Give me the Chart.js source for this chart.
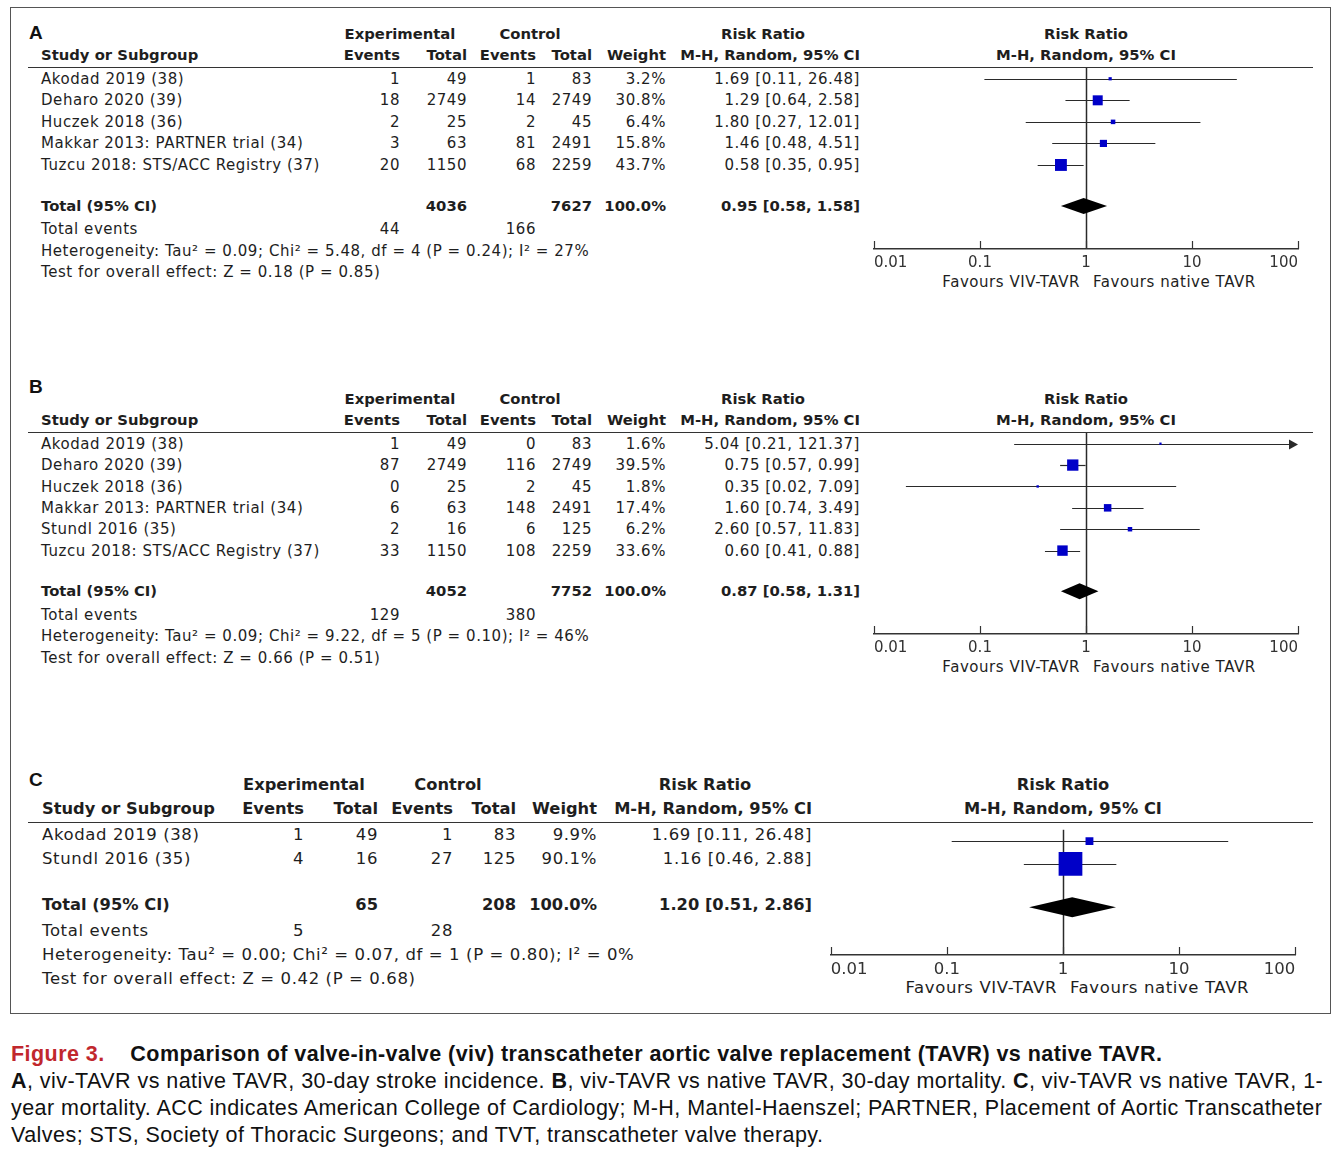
<!DOCTYPE html>
<html>
<head>
<meta charset="utf-8">
<script src="https://cdn.jsdelivr.net/npm/chart.js@4.4.1/dist/chart.umd.min.js"></script>
<style>
  body { margin: 0; background: #fff; width: 1344px; height: 1150px; position: relative; overflow: hidden; }
  #frame { position: absolute; left: 10px; top: 7px; width: 1321px; height: 1007px; border: 1.5px solid #555; box-sizing: border-box; }
  .t { position: absolute; white-space: nowrap; line-height: 20px; height: 20px; color: #1e1e1e; font-family: 'DejaVu Sans', sans-serif; }
  .rule { position: absolute; left: 28px; width: 1285px; height: 0; border-top: 1.5px solid #333; }
  .tag { font-family: 'Liberation Sans', Arial, sans-serif; font-weight: bold; font-size: 19px; color: #111; }
  #caption { position: absolute; left: 11px; top: 1041px; font-family: 'Liberation Sans', Arial, sans-serif; font-size: 21.5px; letter-spacing: 0.45px; line-height: 27px; color: #111; white-space: nowrap; }
  #caption .fig { color: #c1272d; font-weight: bold; }
  canvas { position: absolute; }
</style>
</head>
<body>
<div id="frame"></div>
<div id="caption">
  <div><span class="fig">Figure 3.</span>&nbsp;&nbsp;&nbsp; <b>Comparison of valve-in-valve (viv) transcatheter aortic valve replacement (TAVR) vs native TAVR.</b></div>
  <div><b>A</b>, viv-TAVR vs native TAVR, 30-day stroke incidence. <b>B</b>, viv-TAVR vs native TAVR, 30-day mortality. <b>C</b>, viv-TAVR vs native TAVR, 1-</div>
  <div>year mortality. ACC indicates American College of Cardiology; M-H, Mantel-Haenszel; PARTNER, Placement of Aortic Transcatheter</div>
  <div>Valves; STS, Society of Thoracic Surgeons; and TVT, transcatheter valve therapy.</div>
</div>
<script>
// A: 30-day stroke incidence
const studiesA = ['Akodad 2019 (38)', 'Deharo 2020 (39)', 'Huczek 2018 (36)', 'Makkar 2013: PARTNER trial (34)', 'Tuzcu 2018: STS/ACC Registry (37)'];
const expEventsA = [1, 18, 2, 3, 20];
const expTotalA = [49, 2749, 25, 63, 1150];
const ctlEventsA = [1, 14, 2, 81, 68];
const ctlTotalA = [83, 2749, 45, 2491, 2259];
const weightA = [3.2, 30.8, 6.4, 15.8, 43.7];
const rrA = [1.69, 1.29, 1.80, 1.46, 0.58];
const lowA = [0.11, 0.64, 0.27, 0.48, 0.35];
const highA = [26.48, 2.58, 12.01, 4.51, 0.95];
const totalsA = [4036, 7627];          // exp total, control total
const totalEventsA = [44, 166];
const pooledA = [0.95, 0.58, 1.58];    // rr, low, high
const hetA = 'Heterogeneity: Tau² = 0.09; Chi² = 5.48, df = 4 (P = 0.24); I² = 27%';
const testA = 'Test for overall effect: Z = 0.18 (P = 0.85)';

// B: 30-day mortality
const studiesB = ['Akodad 2019 (38)', 'Deharo 2020 (39)', 'Huczek 2018 (36)', 'Makkar 2013: PARTNER trial (34)', 'Stundl 2016 (35)', 'Tuzcu 2018: STS/ACC Registry (37)'];
const expEventsB = [1, 87, 0, 6, 2, 33];
const expTotalB = [49, 2749, 25, 63, 16, 1150];
const ctlEventsB = [0, 116, 2, 148, 6, 108];
const ctlTotalB = [83, 2749, 45, 2491, 125, 2259];
const weightB = [1.6, 39.5, 1.8, 17.4, 6.2, 33.6];
const rrB = [5.04, 0.75, 0.35, 1.60, 2.60, 0.60];
const lowB = [0.21, 0.57, 0.02, 0.74, 0.57, 0.41];
const highB = [121.37, 0.99, 7.09, 3.49, 11.83, 0.88];
const totalsB = [4052, 7752];
const totalEventsB = [129, 380];
const pooledB = [0.87, 0.58, 1.31];
const hetB = 'Heterogeneity: Tau² = 0.09; Chi² = 9.22, df = 5 (P = 0.10); I² = 46%';
const testB = 'Test for overall effect: Z = 0.66 (P = 0.51)';

// C: 1-year mortality
const studiesC = ['Akodad 2019 (38)', 'Stundl 2016 (35)'];
const expEventsC = [1, 4];
const expTotalC = [49, 16];
const ctlEventsC = [1, 27];
const ctlTotalC = [83, 125];
const weightC = [9.9, 90.1];
const rrC = [1.69, 1.16];
const lowC = [0.11, 0.46];
const highC = [26.48, 2.88];
const totalsC = [65, 208];
const totalEventsC = [5, 28];
const pooledC = [1.20, 0.51, 2.86];
const hetC = 'Heterogeneity: Tau² = 0.00; Chi² = 0.07, df = 1 (P = 0.80); I² = 0%';
const testC = 'Test for overall effect: Z = 0.42 (P = 0.68)';

const tickVals = [0.01, 0.1, 1, 10, 100];
const favours = ['Favours VIV-TAVR', 'Favours native TAVR'];

// page layout for each panel (pixels)
const layoutA = { tag: 'A', tagX: 29, tagY: 33, lineY: 68, rowH: 21.5, axisRows: 3.4, fs: 15, fsB: 14.8, nameX: 41,
  cols: [400, 467, 536, 592, 666, 860], expC: 400, ctlC: 530, rrC: 763, plotL: 874, plotR: 1298, sq: 1.8, dia: 8 };
const layoutB = { tag: 'B', tagX: 29, tagY: 387, lineY: 433, rowH: 21.4, axisRows: 3.4, fs: 15, fsB: 14.8, nameX: 41,
  cols: [400, 467, 536, 592, 666, 860], expC: 400, ctlC: 530, rrC: 763, plotL: 874, plotR: 1298, sq: 1.8, dia: 8 };
const layoutC = { tag: 'C', tagX: 29, tagY: 780, lineY: 823, rowH: 24, axisRows: 3.5, fs: 16.5, fsB: 16.3, nameX: 42,
  cols: [304, 378, 453, 516, 597, 812], expC: 304, ctlC: 448, rrC: 705, plotL: 828, plotR: 1298, sq: 2.5, dia: 10 };

function put(txt, x, y, align, size, bold, cls) {
  const d = document.createElement('div');
  d.className = 't' + (cls ? ' ' + cls : '');
  d.textContent = txt;
  d.style.left = x + 'px';
  d.style.top = (y - 10) + 'px';
  if (size) d.style.fontSize = size + 'px';
  if (bold) d.style.fontWeight = 'bold';
  else if (size) d.style.letterSpacing = (size * 0.037).toFixed(2) + 'px';
  if (align === 'right') d.style.transform = 'translateX(-100%)';
  if (align === 'center') d.style.transform = 'translateX(-50%)';
  document.body.appendChild(d);
  return d;
}

const ci = (r, l, h) => r.toFixed(2) + ' [' + l.toFixed(2) + ', ' + h.toFixed(2) + ']';

function buildTable(P, L) {
  const n = P.studies.length;
  const rowY = r => L.lineY + L.rowH * r;
  const mid = (L.plotL + L.plotR) / 2;
  put(L.tag, L.tagX, L.tagY, 'left', null, false, 'tag');

  put('Experimental', L.expC, rowY(-1.6), 'center', L.fsB, true);
  put('Control', L.ctlC, rowY(-1.6), 'center', L.fsB, true);
  put('Risk Ratio', L.rrC, rowY(-1.6), 'center', L.fsB, true);
  put('Risk Ratio', mid, rowY(-1.6), 'center', L.fsB, true);
  put('Study or Subgroup', L.nameX, rowY(-0.6), 'left', L.fsB, true);
  ['Events', 'Total', 'Events', 'Total', 'Weight', 'M-H, Random, 95% CI'].forEach((h, i) => {
    put(h, L.cols[i], rowY(-0.6), 'right', L.fsB, true);
  });
  put('M-H, Random, 95% CI', mid, rowY(-0.6), 'center', L.fsB, true);

  const rule = document.createElement('div');
  rule.className = 'rule';
  rule.style.top = (L.lineY - 1) + 'px';
  document.body.appendChild(rule);

  P.studies.forEach((s, i) => {
    const y = rowY(i + 0.5);
    put(s, L.nameX, y, 'left', L.fs);
    const cells = [P.expEvents[i], P.expTotal[i], P.ctlEvents[i], P.ctlTotal[i],
      P.weight[i].toFixed(1) + '%', ci(P.rr[i], P.low[i], P.high[i])];
    cells.forEach((c, j) => put(String(c), L.cols[j], y, 'right', L.fs));
  });

  const ty = rowY(n + 1.4);
  put('Total (95% CI)', L.nameX, ty, 'left', L.fsB, true);
  put(String(P.totals[0]), L.cols[1], ty, 'right', L.fsB, true);
  put(String(P.totals[1]), L.cols[3], ty, 'right', L.fsB, true);
  put('100.0%', L.cols[4], ty, 'right', L.fsB, true);
  put(ci(P.pooled[0], P.pooled[1], P.pooled[2]), L.cols[5], ty, 'right', L.fsB, true);

  put('Total events', L.nameX, rowY(n + 2.5), 'left', L.fs);
  put(String(P.totalEvents[0]), L.cols[0], rowY(n + 2.5), 'right', L.fs);
  put(String(P.totalEvents[1]), L.cols[2], rowY(n + 2.5), 'right', L.fs);
  put(P.het, L.nameX, rowY(n + 3.5), 'left', L.fs);
  put(P.test, L.nameX, rowY(n + 4.5), 'left', L.fs);

  const fy = rowY(n + L.axisRows) + 33;
  put(favours[0], mid - 6, fy, 'right', L.fs);
  put(favours[1], mid + 7, fy, 'left', L.fs);
}

// draws CI whiskers, the line of no effect, pooled diamond and axis ticks
const forestPlugin = {
  id: 'forest',
  beforeDatasetsDraw(chart, args, opts) {
    const { ctx, chartArea } = chart;
    const xs = chart.scales.x, ys = chart.scales.y;
    ctx.save();
    ctx.strokeStyle = '#2a2a2a';
    ctx.lineWidth = 1.5;
    const x1 = Math.round(xs.getPixelForValue(1)) + 0.5;
    ctx.beginPath();
    ctx.moveTo(x1, chartArea.top);
    ctx.lineTo(x1, chartArea.bottom);
    ctx.stroke();

    ctx.lineWidth = 1.2;
    ctx.fillStyle = '#2a2a2a';
    opts.low.forEach((lo, i) => {
      const y = Math.round(ys.getPixelForValue(i + 0.5)) + 0.5;
      const a = Math.max(xs.getPixelForValue(lo), chartArea.left);
      const over = opts.high[i] > xs.max;
      const b = over ? chartArea.right : xs.getPixelForValue(opts.high[i]);
      ctx.beginPath();
      ctx.moveTo(a, y);
      ctx.lineTo(over ? b - 6 : b, y);
      ctx.stroke();
      if (over) {
        ctx.beginPath();
        ctx.moveTo(b, y);
        ctx.lineTo(b - 9, y - 5);
        ctx.lineTo(b - 9, y + 5);
        ctx.closePath();
        ctx.fill();
      }
    });
    ctx.restore();
  },
  afterDatasetsDraw(chart, args, opts) {
    const { ctx, chartArea } = chart;
    const xs = chart.scales.x, ys = chart.scales.y;
    const p = opts.pooled;
    const y = ys.getPixelForValue(opts.totalRow);
    ctx.save();
    ctx.fillStyle = '#000';
    ctx.beginPath();
    ctx.moveTo(xs.getPixelForValue(p[1]), y);
    ctx.lineTo(xs.getPixelForValue(p[0]), y - opts.dia);
    ctx.lineTo(xs.getPixelForValue(p[2]), y);
    ctx.lineTo(xs.getPixelForValue(p[0]), y + opts.dia);
    ctx.closePath();
    ctx.fill();

    ctx.strokeStyle = '#333';
    ctx.lineWidth = 1.2;
    tickVals.forEach(v => {
      const x = Math.round(xs.getPixelForValue(v)) + 0.5;
      ctx.beginPath();
      ctx.moveTo(x, chartArea.bottom);
      ctx.lineTo(x, chartArea.bottom - 8);
      ctx.stroke();
    });
    ctx.restore();
  }
};

function buildForest(P, L) {
  const n = P.studies.length;
  const padX = 14, padT = 10, axisH = 34;
  const cv = document.createElement('canvas');
  cv.width = (L.plotR - L.plotL) + 2 * padX;
  cv.height = Math.round(padT + L.rowH * (n + L.axisRows) + axisH);
  cv.style.left = (L.plotL - padX) + 'px';
  cv.style.top = (L.lineY - padT) + 'px';
  document.body.appendChild(cv);

  new Chart(cv.getContext('2d'), {
    type: 'scatter',
    data: {
      datasets: [{
        data: P.rr.map((r, i) => ({ x: r, y: i + 0.5 })),
        pointStyle: 'rect',
        pointRadius: P.weight.map(w => L.sq * Math.sqrt(w) / (2 * Math.SQRT1_2)),
        backgroundColor: '#0000c8',
        borderWidth: 0
      }]
    },
    options: {
      responsive: false,
      animation: false,
      events: [],
      layout: { padding: { left: padX, right: padX, top: padT, bottom: 0 } },
      plugins: {
        legend: { display: false },
        tooltip: { enabled: false },
        forest: { low: P.low, high: P.high, pooled: P.pooled, totalRow: n + 1.4, dia: L.dia }
      },
      scales: {
        x: {
          type: 'logarithmic',
          min: 0.01,
          max: 100,
          afterBuildTicks: s => { s.ticks = tickVals.map(v => ({ value: v })); },
          afterFit: s => { s.height = axisH; },
          grid: { display: true, drawOnChartArea: false, drawTicks: false },
          border: { display: true, color: '#333', width: 1.5 },
          ticks: {
            align: 'inner',
            padding: 5,
            color: '#333',
            font: { family: 'DejaVu Sans', size: L.fs },
            callback: v => String(v)
          }
        },
        y: { type: 'linear', min: 0, max: n + L.axisRows, reverse: true, display: false }
      }
    },
    plugins: [forestPlugin]
  });
}

const panelA = { studies: studiesA, expEvents: expEventsA, expTotal: expTotalA, ctlEvents: ctlEventsA, ctlTotal: ctlTotalA,
  weight: weightA, rr: rrA, low: lowA, high: highA, totals: totalsA, totalEvents: totalEventsA, pooled: pooledA, het: hetA, test: testA };
const panelB = { studies: studiesB, expEvents: expEventsB, expTotal: expTotalB, ctlEvents: ctlEventsB, ctlTotal: ctlTotalB,
  weight: weightB, rr: rrB, low: lowB, high: highB, totals: totalsB, totalEvents: totalEventsB, pooled: pooledB, het: hetB, test: testB };
const panelC = { studies: studiesC, expEvents: expEventsC, expTotal: expTotalC, ctlEvents: ctlEventsC, ctlTotal: ctlTotalC,
  weight: weightC, rr: rrC, low: lowC, high: highC, totals: totalsC, totalEvents: totalEventsC, pooled: pooledC, het: hetC, test: testC };

[[panelA, layoutA], [panelB, layoutB], [panelC, layoutC]].forEach(([P, L]) => {
  buildTable(P, L);
  buildForest(P, L);
});
</script>
</body>
</html>
